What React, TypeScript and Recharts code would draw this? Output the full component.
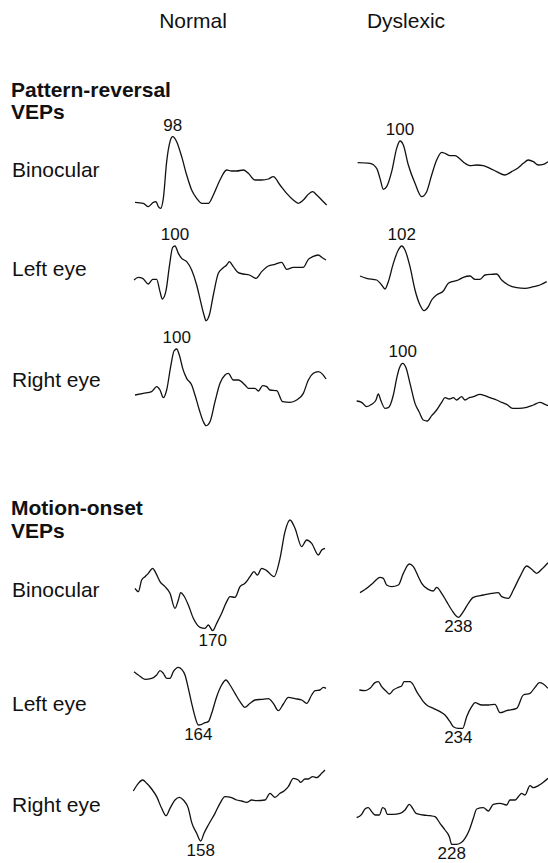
import { LineChart, Line, XAxis, YAxis, ReferenceDot } from "recharts";

// time (ms) / amplitude (µV) pairs
const prBinocularNormal: [number, number][] = [
  [15, -2.2], [40, -2.5], [55, -3.5], [70, -2.2], [78, -2.0], [85, -3.5], [92, -4.0], [100, -1.0],
  [110, 10.0], [120, 16.0], [128, 17.5], [140, 16.0], [155, 11.5], [170, 6.0], [185, 1.5], [200, -1.0],
  [215, -2.5], [235, -2.5], [250, 0], [270, 4.5], [290, 7.5], [305, 7.2], [320, 7.2], [340, 7.5],
  [355, 6.5], [375, 4.5], [395, 4.5], [415, 4.8], [430, 5.5], [450, 3.0], [470, 0.5], [490, -1.5],
  [505, -2.5], [520, -1.5], [535, 0.2], [548, 1.0], [560, 0], [575, -1.5], [590, -3.0],
];
const prBinocularDyslexic: [number, number][] = [
  [23, 9.7], [60, 9.5], [80, 8.0], [90, 5.0], [100, 1.7], [110, 2.5], [125, 7.0], [140, 14.0],
  [150, 16.2], [160, 15.0], [175, 9.0], [195, 3.5], [215, -0.5], [230, 1.0], [245, 6.0], [260, 10.5],
  [275, 12.8], [285, 12.5], [300, 11.8], [315, 11.8], [330, 10.8], [345, 9.5], [360, 8.8], [380, 9.0],
  [400, 8.8], [420, 8.0], [440, 7.0], [465, 6.0], [485, 7.0], [505, 8.2], [520, 9.5], [535, 10.5],
  [550, 10.0], [565, 9.0], [580, 9.2], [594, 10.0],
];
const prLeftNormal: [number, number][] = [
  [12, 2.0], [25, 2.8], [38, 2.5], [55, 0.8], [68, 2.2], [80, 2.2], [90, -1.5], [97, -3.7],
  [108, -1.2], [118, 6.0], [128, 11.8], [135, 12.2], [145, 10.0], [155, 8.5], [170, 7.5], [185, 5.0],
  [200, 0.5], [212, -4.5], [222, -8.5], [228, -10.2], [238, -8.5], [250, -2.5], [265, 4.0], [278, 5.5],
  [290, 6.5], [298, 7.5], [310, 6.0], [325, 4.2], [340, 3.8], [358, 3.5], [378, 2.5], [395, 4.5],
  [415, 6.2], [435, 6.7], [455, 7.3], [470, 5.2], [490, 5.8], [520, 5.8], [535, 8.2], [548, 9.0],
  [565, 9.5], [575, 8.8], [588, 8.0],
];
const prLeftDyslexic: [number, number][] = [
  [30, 3.2], [50, 2.5], [80, 2.0], [95, 0.5], [105, -0.7], [115, 1.5], [130, 7.0], [145, 11.0],
  [155, 12.2], [165, 11.0], [180, 6.0], [195, -1.0], [210, -5.5], [222, -7.2], [235, -6.0], [245, -4.0],
  [260, -2.5], [280, -1.3], [295, 1.0], [310, 1.6], [325, 2.0], [340, 2.8], [360, 3.2], [375, 2.2],
  [390, 2.2], [405, 3.5], [425, 3.7], [440, 3.8], [455, 2.0], [475, 0.5], [500, -0.3], [525, -0.5],
  [550, 0], [570, 0.5], [590, 1.5],
];
const prRightNormal: [number, number][] = [
  [15, 0], [40, 0.5], [65, 1.0], [80, 2.5], [90, 1.5], [100, -0.8], [110, 1.5], [122, 8.5],
  [132, 13.2], [140, 13.8], [148, 12.0], [158, 8.0], [170, 5.0], [185, 3.0], [195, 0], [208, -4.5],
  [220, -8.0], [228, -9.2], [240, -8.0], [255, -2.0], [270, 3.5], [285, 6.0], [295, 6.5], [310, 4.5],
  [325, 4.5], [345, 3.0], [355, 2.0], [375, 2.0], [385, 1.2], [398, 2.8], [410, 2.5], [420, 1.5],
  [440, 1.3], [458, -2.0], [480, -2.2], [500, -1.5], [520, 0.5], [535, 4.5], [550, 6.5], [565, 7.0],
  [578, 6.2], [588, 4.8],
];
const prRightDyslexic: [number, number][] = [
  [20, -1.8], [35, -2.2], [50, -3.5], [65, -2.8], [78, -1.5], [85, 0.3], [92, -1.5], [105, -4.0],
  [115, -3.8], [130, 0], [140, 5.0], [148, 8.0], [158, 9.5], [168, 8.2], [180, 3.5], [195, -2.5],
  [208, -5.2], [220, -7.5], [232, -7.8], [245, -6.2], [260, -4.5], [275, -2.2], [285, -0.8], [298, -1.2],
  [310, -0.8], [320, -1.5], [335, -0.5], [345, -1.5], [358, -0.8], [370, -0.5], [390, 0.2], [405, -0.2],
  [420, -0.8], [440, -1.5], [455, -2.2], [470, -2.8], [488, -4.0], [505, -4.0], [530, -3.7], [550, -3.0],
  [570, -2.2], [585, -2.8], [594, -3.2],
];
const moBinocularNormal: [number, number][] = [
  [15, 15.5], [25, 14.5], [35, 18.0], [45, 19.0], [55, 20.0], [68, 21.5], [78, 20.0], [90, 17.5],
  [105, 16.0], [120, 14.0], [135, 9.5], [145, 12.0], [152, 14.2], [162, 13.2], [175, 10.5], [190, 6.5],
  [210, 3.8], [225, 3.5], [235, 4.5], [248, 2.8], [260, 5.0], [275, 8.0], [290, 11.5], [300, 13.0],
  [315, 12.8], [330, 16.0], [345, 17.0], [360, 19.0], [372, 20.5], [382, 19.5], [395, 21.5], [410, 20.8],
  [432, 19.0], [450, 24.5], [465, 32.5], [480, 36.0], [495, 33.5], [515, 28.0], [530, 30.0], [545, 29.0],
  [565, 25.5], [575, 27.0], [585, 27.5],
];
const moBinocularDyslexic: [number, number][] = [
  [30, 14.2], [50, 15.5], [70, 17.2], [90, 18.8], [100, 18.5], [110, 16.5], [125, 16.0], [145, 16.5],
  [160, 20.0], [178, 22.8], [190, 22.0], [205, 19.0], [215, 17.0], [235, 15.2], [250, 14.7], [260, 15.8],
  [275, 14.0], [290, 11.5], [305, 9.0], [325, 6.8], [340, 8.5], [355, 11.0], [370, 12.8], [400, 13.5],
  [425, 14.0], [445, 14.2], [455, 13.0], [475, 12.5], [490, 15.0], [510, 19.0], [530, 22.2], [545, 21.2],
  [560, 20.0], [575, 21.2], [594, 23.2],
];
const moLeftNormal: [number, number][] = [
  [12, 11.5], [25, 10.5], [45, 9.2], [65, 9.5], [80, 10.5], [90, 11.8], [100, 11.0], [110, 9.5],
  [120, 9.5], [130, 11.5], [145, 12.8], [155, 12.2], [165, 10.5], [175, 6.5], [185, 2.0], [195, -2.0],
  [205, -4.5], [215, -4.3], [225, -3.8], [235, -3.5], [245, -1.0], [260, 4.0], [275, 7.5], [288, 9.0],
  [300, 7.5], [315, 5.0], [330, 2.5], [345, 0.8], [360, 2.0], [375, 3.0], [395, 3.2], [415, 3.4],
  [430, 2.0], [445, -0.2], [460, 1.8], [475, 3.8], [495, 3.4], [515, 3.0], [530, 2.0], [545, 4.5],
  [555, 5.8], [570, 6.0], [580, 6.8], [588, 6.5],
];
const moLeftDyslexic: [number, number][] = [
  [28, 6.0], [45, 5.8], [60, 6.5], [75, 8.2], [85, 8.5], [95, 7.0], [110, 5.5], [118, 4.8],
  [130, 6.0], [145, 6.8], [155, 7.2], [162, 8.5], [180, 8.5], [190, 7.5], [200, 5.5], [210, 4.0],
  [220, 2.5], [230, 1.5], [250, 0.5], [270, -0.5], [285, -1.5], [300, -3.5], [310, -5.0], [325, -5.5],
  [338, -5.5], [350, -2.0], [365, 1.0], [375, 2.2], [395, 1.5], [415, 1.5], [435, 1.7], [450, -0.8],
  [470, -0.2], [500, 0.5], [520, 4.5], [540, 5.0], [555, 6.8], [568, 8.2], [580, 7.8], [594, 6.5],
];
const moRightNormal: [number, number][] = [
  [10, 7.2], [25, 9.5], [38, 10.5], [50, 9.5], [65, 7.8], [80, 5.5], [95, 2.0], [108, -0.2],
  [120, 2.0], [135, 4.5], [148, 5.3], [160, 4.5], [175, 2.0], [185, -2.2], [200, -5.5], [212, -7.8],
  [222, -5.5], [235, -3.0], [255, 0.5], [270, 3.5], [285, 5.5], [305, 5.2], [320, 4.5], [335, 4.2],
  [350, 3.8], [365, 4.5], [380, 4.3], [405, 4.5], [420, 6.5], [435, 5.3], [450, 6.5], [462, 7.2],
  [475, 8.5], [490, 11.0], [505, 10.5], [512, 9.8], [525, 10.8], [535, 10.8], [548, 11.5], [560, 11.2],
  [575, 12.5], [585, 13.5],
];
const moRightDyslexic: [number, number][] = [
  [20, -0.8], [35, 0.2], [45, 1.8], [55, 2.2], [65, 1.0], [75, 0], [88, 0], [98, 2.2],
  [105, 1.8], [112, 0.2], [130, 0.2], [150, 0.5], [165, 1.5], [178, 3.2], [188, 2.0], [198, 0.5],
  [220, 0], [240, -0.2], [255, -0.5], [270, -2.5], [285, -4.5], [298, -6.5], [305, -8.8], [320, -8.8],
  [335, -8.2], [345, -7.0], [358, -4.5], [370, -1.0], [380, 1.8], [400, 2.2], [415, 1.2], [430, 3.2],
  [450, 3.5], [470, 3.0], [480, 4.5], [495, 4.5], [505, 5.5], [515, 6.5], [525, 6.0], [540, 8.8],
  [550, 8.2], [565, 8.8], [580, 9.8], [594, 11.0],
];

const columnTitles = ["Normal", "Dyslexic"];
const groupTitles = [["Pattern-reversal", "VEPs"], ["Motion-onset", "VEPs"]];
const rowLabels = ["Binocular", "Left eye", "Right eye"];
const prLatencyNormal = [98, 100, 100];
const prLatencyDyslexic = [100, 102, 100];
const moLatencyNormal = [170, 164, 158];
const moLatencyDyslexic = [238, 234, 228];

const FONT = '"Liberation Sans", Arial, Helvetica, sans-serif';
const INK = "#111";
const SCALE = 0.3; // µV per pixel
const T_MAX = 600;
const CHART_W = 200;
const COL_LEFT = [130, 350];

// chart boxes: top (px), height (px), amplitude at top edge (µV)
const rows = [
  { top: 95, height: 120, hi: 30, peak: "max" },
  { top: 220, height: 105, hi: 20, peak: "max" },
  { top: 325, height: 110, hi: 21, peak: "max" },
  { top: 510, height: 145, hi: 39, peak: "min" },
  { top: 660, height: 100, hi: 15, peak: "min" },
  { top: 765, height: 98, hi: 15, peak: "min" },
];

const traces = [
  [prBinocularNormal, prBinocularDyslexic],
  [prLeftNormal, prLeftDyslexic],
  [prRightNormal, prRightDyslexic],
  [moBinocularNormal, moBinocularDyslexic],
  [moLeftNormal, moLeftDyslexic],
  [moRightNormal, moRightDyslexic],
];
const latencies = [0, 1, 2].map((i) => [prLatencyNormal[i], prLatencyDyslexic[i]]).concat(
  [0, 1, 2].map((i) => [moLatencyNormal[i], moLatencyDyslexic[i]])
);

function Trace({ points, row, col, latency }: any) {
  const data = points.map(([t, v]: [number, number]) => ({ t, v }));
  const pick = data.reduce((best: any, p: any) =>
    row.peak === "max" ? (p.v > best.v ? p : best) : p.v < best.v ? p : best
  );
  const lo = row.hi - row.height * SCALE;
  const isMax = row.peak === "max";
  return (
    <div style={{ position: "absolute", left: COL_LEFT[col], top: row.top }}>
      <LineChart width={CHART_W} height={row.height} data={data} margin={{ top: 0, right: 0, bottom: 0, left: 0 }}>
        <XAxis type="number" dataKey="t" domain={[0, T_MAX]} hide allowDataOverflow />
        <YAxis type="number" domain={[lo, row.hi]} hide allowDataOverflow />
        <Line
          type="monotone"
          dataKey="v"
          stroke={INK}
          strokeWidth={1.3}
          dot={false}
          isAnimationActive={false}
        />
        <ReferenceDot
          x={pick.t}
          y={pick.v}
          r={0}
          fill="none"
          stroke="none"
          label={{
            value: String(latency),
            position: isMax ? "top" : "bottom",
            offset: isMax ? 6 : 3,
            fill: INK,
            fontSize: 17,
            fontFamily: FONT,
          }}
        />
      </LineChart>
    </div>
  );
}

export default function App() {
  const labelY = [177, 276, 387, 597, 711, 812];
  return (
    <div style={{ position: "absolute", left: 0, top: 0, width: 548, height: 863, background: "#fff", overflow: "hidden" }}>
      <svg width={548} height={863} style={{ position: "absolute", left: 0, top: 0 }} fontFamily={FONT} fill={INK}>
        <text x={193} y={28} fontSize={21} textAnchor="middle">{columnTitles[0]}</text>
        <text x={406} y={28} fontSize={21} textAnchor="middle">{columnTitles[1]}</text>
        <text x={11} y={97} fontSize={21} fontWeight="bold">{groupTitles[0][0]}</text>
        <text x={11} y={119} fontSize={21} fontWeight="bold">{groupTitles[0][1]}</text>
        <text x={11} y={515} fontSize={21} fontWeight="bold">{groupTitles[1][0]}</text>
        <text x={11} y={538} fontSize={21} fontWeight="bold">{groupTitles[1][1]}</text>
        {labelY.map((y, i) => (
          <text key={i} x={12} y={y} fontSize={21}>{rowLabels[i % 3]}</text>
        ))}
      </svg>
      {rows.map((row, r) =>
        [0, 1].map((c) => (
          <Trace key={`${r}-${c}`} points={traces[r][c]} row={row} col={c} latency={latencies[r][c]} />
        ))
      )}
    </div>
  );
}
